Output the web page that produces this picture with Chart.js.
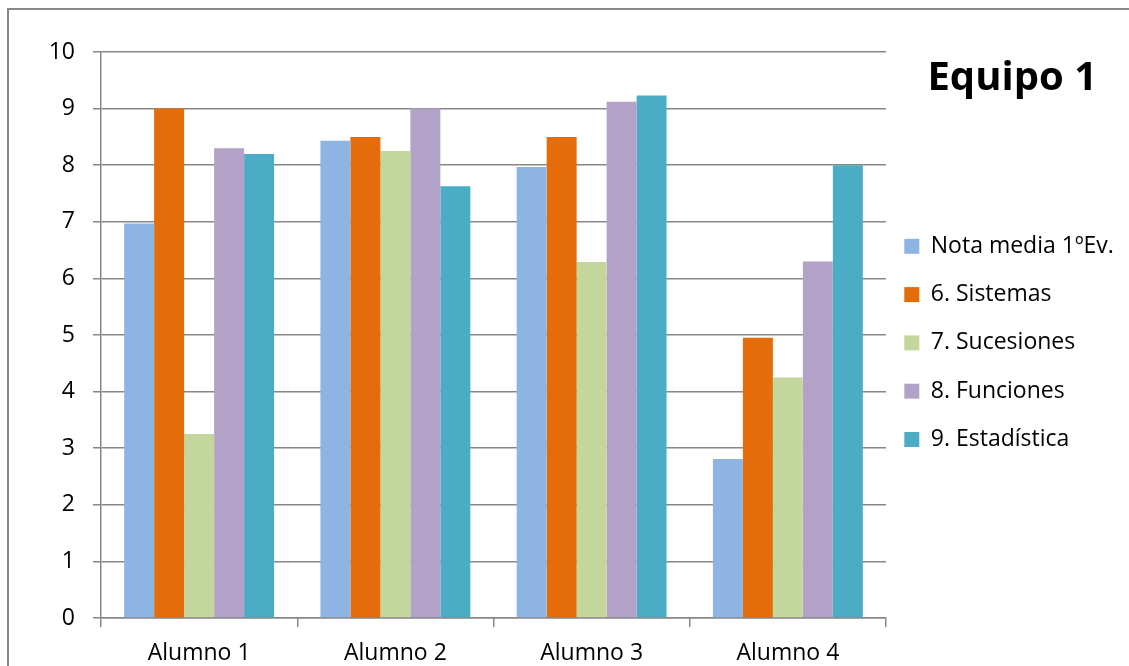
<!DOCTYPE html>
<html>
<head>
<meta charset="utf-8">
<script src="https://cdn.jsdelivr.net/npm/chart.js@4"></script>
<style>
  html, body { margin: 0; padding: 0; background: #fff; }
  #wrap { position: relative; width: 1129px; height: 666px; overflow: hidden; }
  #frame { position: absolute; left: 7px; top: 8px; width: 1200px; height: 700px; border-left: 2px solid #878787; border-top: 2px solid #878787; }
  canvas { position: absolute; left: 0; top: 0; }
</style>
</head>
<body>
<div id="wrap">
  <div id="frame"></div>
  <canvas id="teamChart" width="1129" height="666"></canvas>
</div>
<script>
const alumnos = ['Alumno 1', 'Alumno 2', 'Alumno 3', 'Alumno 4'];
const notaMedia = [6.97, 8.43, 7.97, 2.81];
const sistemas = [9, 8.5, 8.5, 4.95];
const sucesiones = [3.25, 8.25, 6.29, 4.25];
const funciones = [8.3, 9, 9.12, 6.3];
const estadistica = [8.2, 7.63, 9.23, 8];
const yTicks = [0, 1, 2, 3, 4, 5, 6, 7, 8, 9, 10];

const gridColor = '#878787';
const labelFont = { family: 'Open Sans', size: 23 };

// legend box starts a bit closer to the plot, and the title ends short of the edge
const legendShift = {
    id: 'legendShift',
    afterLayout(chart) {
        chart.legend.left -= 7;
        chart.legend.width -= 25;
    }
};

const teamChart = new Chart(document.getElementById('teamChart'), {
    type: 'bar',
    data: {
        labels: alumnos,
        datasets: [
            { label: 'Nota media 1ºEv.', data: notaMedia, backgroundColor: '#8EB4E3' },
            { label: '6. Sistemas', data: sistemas, backgroundColor: '#E46C0A' },
            { label: '7. Sucesiones', data: sucesiones, backgroundColor: '#C3D69B' },
            { label: '8. Funciones', data: funciones, backgroundColor: '#B3A2C7' },
            { label: '9. Estadística', data: estadistica, backgroundColor: '#4BACC6' }
        ]
    },
    options: {
        responsive: false,
        animation: false,
        devicePixelRatio: 1,
        layout: { padding: { left: 10, top: 52, right: 0, bottom: 0 } },
        datasets: { bar: { categoryPercentage: 0.764, barPercentage: 1 } },
        scales: {
            x: {
                grid: { drawOnChartArea: false, tickLength: 9, color: gridColor, lineWidth: 1.5 },
                border: { color: gridColor, width: 1.5 },
                ticks: { font: labelFont, color: '#000', padding: 13 },
                afterFit: s => { s.height = 48; }
            },
            y: {
                min: 0,
                max: 10,
                afterBuildTicks: s => { s.ticks = yTicks.map(v => ({ value: v })); },
                grid: { color: gridColor, lineWidth: 1.5, tickLength: 8 },
                border: { color: gridColor, width: 1.5 },
                ticks: { font: labelFont, color: '#000', padding: 18 },
                afterFit: s => { s.width = 91; }
            }
        },
        plugins: {
            legend: {
                position: 'right',
                align: 'start',
                maxWidth: 243,
                title: {
                    display: true,
                    text: 'Equipo 1',
                    position: 'end',
                    color: '#000',
                    font: { family: 'Open Sans', size: 40, weight: 'bold' },
                    padding: { top: 7, bottom: 102.5 }
                },
                labels: { boxWidth: 15, boxHeight: 15, padding: 25.3, font: labelFont, color: '#000' }
            },
            tooltip: { enabled: false }
        }
    },
    plugins: [legendShift]
});
</script>
</body>
</html>
